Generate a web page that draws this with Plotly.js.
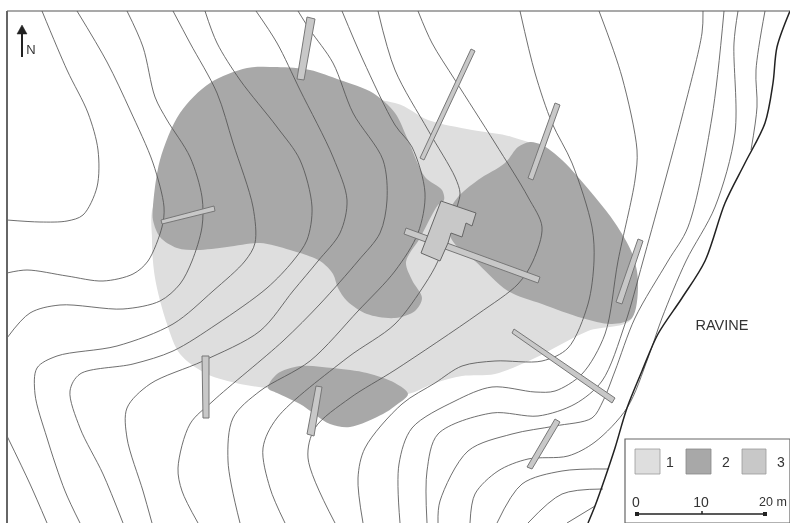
<!DOCTYPE html>
<html><head><meta charset="utf-8">
<script src="https://cdn.plot.ly/plotly-3.0.1.min.js"></script>
<style>html,body{margin:0;padding:0;background:#fff}#chart{filter:blur(0.35px)}</style></head>
<body><div id="chart" style="width:790px;height:523px"></div>
<script>
const contourL0=[[7,436],[30,484],[47,523]];
const contourL1=[[42,11],[67,70],[88,113],[98,150],[97,187],[83,215],[67,221],[40,222],[7,220]];
const contourL2=[[77,11],[107,62],[130,110],[153,163],[164,207],[162,227],[148,261],[133,274],[103,281],[67,276],[27,270],[7,273]];
const contourL3=[[127,11],[143,47],[155,97],[167,120],[190,157],[202,197],[202,227],[192,261],[180,284],[160,301],[123,309],[60,305],[30,313],[7,338]];
const contourL4=[[173,11],[190,43],[217,93],[233,143],[253,207],[255,243],[245,261],[213,291],[173,324],[117,346],[57,356],[37,368],[35,394],[47,438],[65,491],[80,523]];
const contourL5=[[205,11],[217,43],[240,80],[277,127],[300,160],[312,207],[307,240],[293,261],[267,288],[217,324],[173,351],[133,364],[80,374],[70,391],[80,428],[103,474],[123,523]];
const contourL6=[[256,11],[277,43],[300,90],[333,157],[347,200],[340,233],[318,261],[293,291],[260,331],[203,361],[150,384],[127,408],[127,438],[143,491],[152,523]];
const contourL7=[[298,11],[310,30],[333,63],[353,113],[383,160],[387,200],[380,233],[358,261],[320,304],[283,341],[213,401],[190,424],[178,468],[182,491],[198,523]];
const contourL8=[[342,11],[363,60],[395,125],[412,147],[425,193],[418,233],[395,271],[358,311],[310,361],[260,391],[233,418],[228,461],[240,523]];
const contourL9=[[378,11],[395,70],[428,130],[455,177],[460,193],[457,207],[438,261],[425,284],[395,324],[347,358],[277,418],[263,448],[270,488],[285,523]];
const contourL10=[[418,11],[432,43],[455,80],[495,143],[528,197],[542,227],[533,261],[518,284],[478,314],[395,370],[350,398],[315,428],[308,458],[335,523]];
const contourL11=[[520,11],[535,73],[552,123],[572,163],[592,227],[594,261],[588,304],[568,348],[542,361],[495,361],[462,366],[435,383],[402,404],[365,448],[358,478],[363,523]];
const contourL12=[[599,11],[622,77],[637,150],[635,180],[618,261],[605,334],[582,374],[555,391],[535,392],[492,387],[455,401],[412,428],[399,464],[400,523]];
const contourL13=[[703,11],[702,33],[682,117],[643,261],[625,324],[602,381],[575,404],[538,416],[492,413],[438,434],[427,471],[427,523]];
const contourL14=[[724,11],[712,117],[688,227],[668,261],[635,318],[615,371],[603,401],[592,418],[555,426],[512,434],[468,451],[440,501],[438,523]];
const contourL15=[[738,11],[734,43],[735,133],[715,207],[686,261],[662,318],[648,358],[627,408],[595,442],[568,456],[528,459],[498,471],[475,494],[470,523]];
const contourL16=[[765,11],[756,70],[757,107],[751,150]];
const contourL17=[[608,469],[562,471],[522,484],[497,523]];
const contourL18=[[603,489],[562,494],[528,523]];
const contourL19=[[595,506],[567,523]];
const ravine=[[790,11],[777,47],[773,83],[765,123],[745,163],[725,203],[705,261],[682,298],[658,334],[642,371],[627,408],[615,448],[605,478],[595,506],[588,523]];

// settlement zones
const zone1=[[395,103],[428,120],[472,130],[512,137],[560,160],[632,318],[588,331],[535,358],[495,374],[462,376],[435,383],[408,394],[340,400],[273,389],[240,384],[207,374],[180,354],[167,324],[155,278],[152,240],[155,200],[250,100],[395,103]];
const zone2a=[[153,207],[160,160],[180,113],[210,83],[247,68],[277,67],[310,70],[340,80],[373,93],[395,113],[408,140],[425,177],[442,190],[444,200],[438,205],[420,238],[406,262],[412,280],[422,298],[415,311],[395,318],[367,314],[347,301],[338,288],[333,274],[320,261],[290,250],[260,243],[227,247],[197,250],[177,248],[160,237],[153,220],[153,207]];
const zone2b=[[530,142],[542,145],[562,160],[595,197],[615,223],[632,253],[638,281],[632,318],[612,324],[582,318],[542,304],[508,291],[475,261],[452,240],[448,215],[458,197],[478,180],[505,163],[518,147],[530,142]];
const zone2c=[[268,388],[277,374],[300,366],[333,368],[367,373],[395,383],[408,394],[395,406],[383,414],[350,427],[330,424],[300,404],[277,393],[268,388]];

// trenches and the excavated structure
const trenchNW=[[307,17],[315,19],[304,80],[297,79],[307,17]];
const trenchW=[[161,220],[214,206],[215,211],[162,224],[161,220]];
const trenchN=[[471,49],[475,51],[424,160],[420,158],[471,49]];
const trenchNE=[[555,103],[560,105],[533,180],[528,178],[555,103]];
const trenchE=[[638,239],[643,241],[622,304],[616,302],[638,239]];
const trenchSE=[[514,329],[512,333],[612,403],[615,398],[514,329]];
const trenchS=[[555,419],[560,422],[532,469],[527,467],[555,419]];
const trenchSW=[[202,356],[209,356],[209,418],[203,418],[202,356]];
const trenchSS=[[316,386],[322,387],[314,436],[307,434],[316,386]];
const trenchCentre=[[406,228],[540,277],[538,283],[404,234],[406,228]];
const structure=[[441,201],[476,213],[472,226],[466,223],[462,237],[451,233],[448,243],[445,250],[440,261],[421,253],[441,201]];

// legend and annotation furniture
const frameTop=[[790,11],[7,11]];
const frameLeft=[[7,11],[7,523]];
const legendBox=[[790,439],[625,439],[625,523],[790,523],[790,439]];
const swatch1=[[635,449],[660,449],[660,474],[635,474],[635,449]];
const swatch2=[[686,449],[711,449],[711,474],[686,474],[686,449]];
const swatch3=[[742,449],[766,449],[766,474],[742,474],[742,449]];
const scaleBar=[[637,514],[702,514],[765,514]];
const scaleEnds=[[637,514],[765,514]];
const scaleMid=[[702,514],[702,511]];
const northShaft=[[22,57],[22,33]];
const northHead=[[22,25],[27,34],[17,34],[22,25]];
const labelText=["N","RAVINE","1","2","3","0","10","20 m"];
const labelSize=[13,14.5,14,14,14,14,14,12.5];
const labelAt=[[31,51],[722,326],[670,463],[726,463],[781,463],[636,503],[701,503],[773,503]];

const COL1='#dedede',COL2='#a8a8a8',COL3='#c8c8c8';
const xs=a=>a.map(p=>p[0]),ys=a=>a.map(p=>p[1]);
const area=(a,c)=>({x:xs(a),y:ys(a),type:'scatter',mode:'lines',fill:'toself',fillcolor:c,line:{width:0,shape:'spline',smoothing:0.9,color:c},hoverinfo:'skip'});
const contour=a=>({x:xs(a),y:ys(a),type:'scatter',mode:'lines',line:{color:'#555',width:0.85,shape:'spline',smoothing:0.9},hoverinfo:'skip'});
const box=(a,c,e,w)=>({x:xs(a),y:ys(a),type:'scatter',mode:'lines',fill:'toself',fillcolor:c,line:{color:e,width:w},hoverinfo:'skip'});
const line=(a,c,w)=>({x:xs(a),y:ys(a),type:'scatter',mode:'lines',line:{color:c,width:w},hoverinfo:'skip'});

const contours=[contourL0,contourL1,contourL2,contourL3,contourL4,contourL5,contourL6,contourL7,contourL8,contourL9,contourL10,contourL11,contourL12,contourL13,contourL14,contourL15,contourL16,contourL17,contourL18,contourL19];
const trenches=[trenchNW,trenchW,trenchN,trenchNE,trenchE,trenchSE,trenchS,trenchSW,trenchSS,trenchCentre];

const traces=[
 area(zone1,COL1),area(zone2a,COL2),area(zone2b,COL2),area(zone2c,COL2),
 ...contours.map(contour),
 {x:xs(ravine),y:ys(ravine),type:'scatter',mode:'lines',line:{color:'#222',width:1.5,shape:'spline',smoothing:0.9},hoverinfo:'skip'},
 ...trenches.map(t=>box(t,COL3,'#777',1)),
 box(structure,COL3,'#666',1),
 line(frameTop,'#555',1.2),line(frameLeft,'#666',2),
 box(legendBox,'#fff','#666',1.2),
 box(swatch1,COL1,'#999',0.8),box(swatch2,COL2,'#888',0.8),box(swatch3,COL3,'#999',0.8),
 line(scaleBar,'#222',1.5),line(scaleMid,'#222',1.5),
 {x:xs(scaleEnds),y:ys(scaleEnds),type:'scatter',mode:'markers',marker:{symbol:'square',size:4,color:'#222'},hoverinfo:'skip'},
 line(northShaft,'#222',2),
 box(northHead,'#222','#222',0.5),
 {x:xs(labelAt),y:ys(labelAt),text:labelText,type:'scatter',mode:'text',textposition:'middle center',textfont:{family:'Liberation Sans',size:labelSize,color:'#333'},cliponaxis:false,hoverinfo:'skip'}
];
Plotly.newPlot('chart',traces,{
 width:790,height:523,showlegend:false,
 margin:{l:0,r:0,t:0,b:0},paper_bgcolor:'#fff',plot_bgcolor:'#fff',
 xaxis:{range:[0,790],visible:false,fixedrange:true},
 yaxis:{range:[523,0],visible:false,fixedrange:true}
},{displayModeBar:false,staticPlot:true});
</script></body></html>
